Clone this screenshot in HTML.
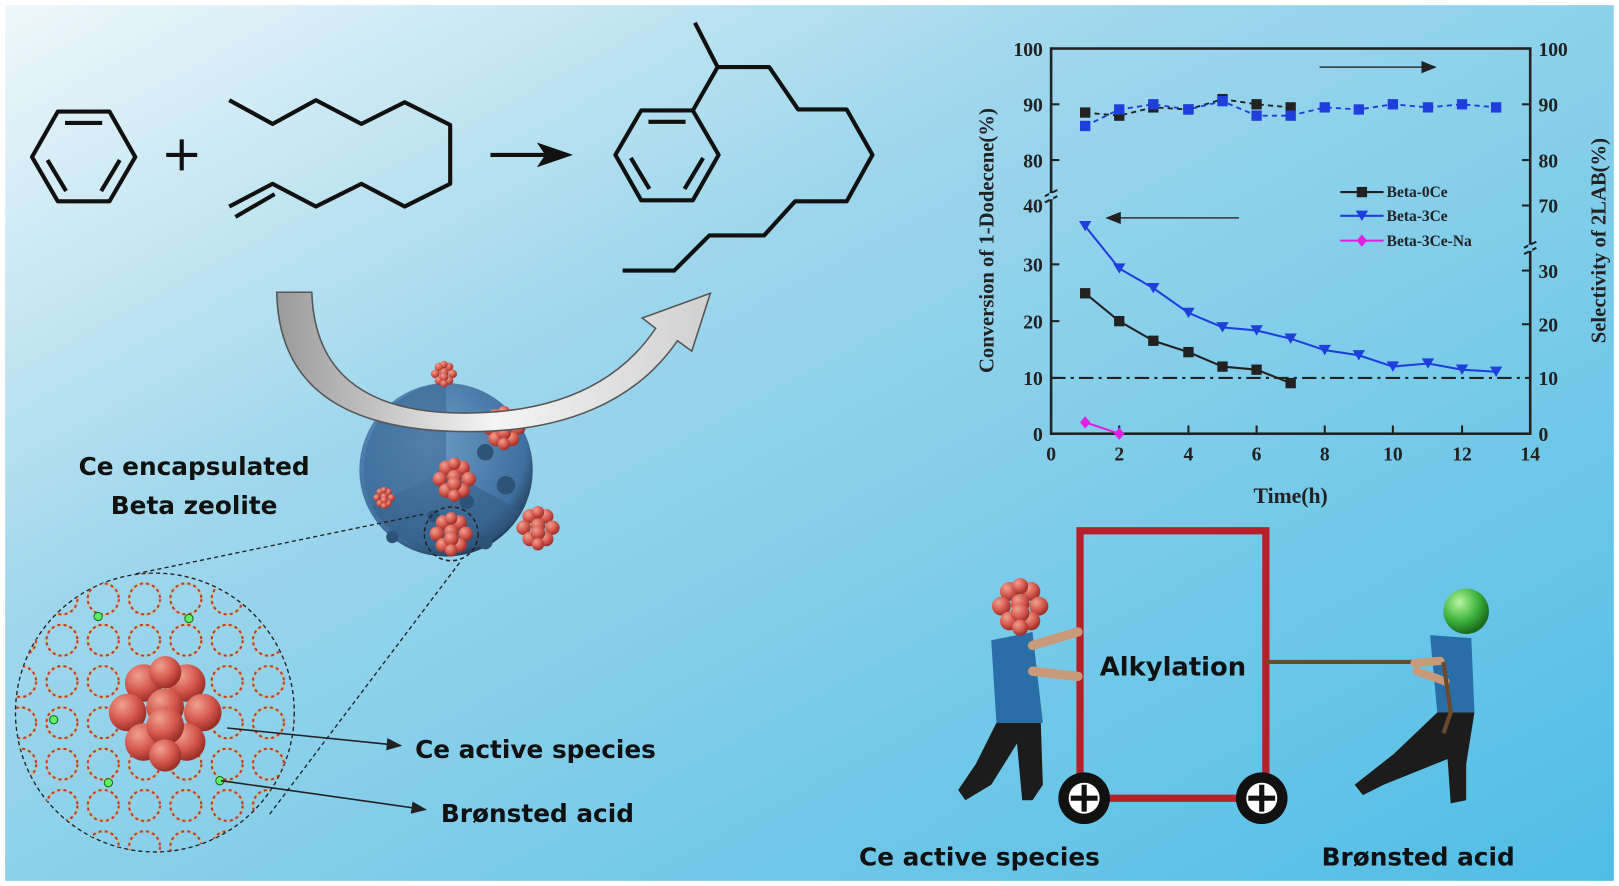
<!DOCTYPE html>
<html><head><meta charset="utf-8"><style>
html,body{margin:0;padding:0;background:#fff}
svg{display:block}
.t{font-family:"Liberation Serif",serif;font-weight:bold;font-size:19px;fill:#222}
.s{font-family:"DejaVu Sans","Liberation Sans",sans-serif;font-weight:bold;fill:#111}
</style></head><body>
<svg width="1619" height="886" viewBox="0 0 1568 858" preserveAspectRatio="none" xmlns="http://www.w3.org/2000/svg">
<defs>
<linearGradient id="bg" x1="0" y1="0" x2="1" y2="1">
<stop offset="0" stop-color="#eef7fa"/><stop offset="0.35" stop-color="#9fd7ec"/><stop offset="1" stop-color="#4fbde6"/>
</linearGradient>
<radialGradient id="sph" cx="0.4" cy="0.35" r="0.7"><stop offset="0" stop-color="#6e9dc8"/><stop offset="0.8" stop-color="#3f6f9e"/><stop offset="1" stop-color="#1e3650"/></radialGradient>
<radialGradient id="ball" cx="0.35" cy="0.3" r="0.7"><stop offset="0" stop-color="#f0a090"/><stop offset="0.6" stop-color="#d4574c"/><stop offset="1" stop-color="#9c3028"/></radialGradient>
<radialGradient id="gball" cx="0.35" cy="0.3" r="0.7"><stop offset="0" stop-color="#b8f5a0"/><stop offset="0.6" stop-color="#3cb33c"/><stop offset="1" stop-color="#1c6a1c"/></radialGradient>
<linearGradient id="arr" x1="0" y1="0" x2="1" y2="0"><stop offset="0" stop-color="#9a9a9a"/><stop offset="0.5" stop-color="#f4f4f4"/><stop offset="1" stop-color="#d0d0d0"/></linearGradient>
<marker id="ah" markerWidth="10" markerHeight="8" refX="9" refY="4" orient="auto"><path d="M0,0 L10,4 L0,8z" fill="#222"/></marker>
<pattern id="lat" width="40" height="40" patternUnits="userSpaceOnUse"><circle cx="20" cy="20" r="15" fill="none" stroke="#c8302a" stroke-width="2" stroke-dasharray="3 3"/><circle cx="20" cy="20" r="15" fill="none" stroke="#e6c040" stroke-width="1.5" stroke-dasharray="2 4" stroke-dashoffset="3"/></pattern>
<clipPath id="cc"><circle cx="150" cy="690" r="135"/></clipPath>
<g id="cl">
<circle cx="-8" cy="-11" r="7" fill="url(#ball)"/><circle cx="8" cy="-11" r="7" fill="url(#ball)"/>
<circle cx="-14" cy="0" r="7" fill="url(#ball)"/><circle cx="14" cy="0" r="7" fill="url(#ball)"/>
<circle cx="0" cy="-2" r="7" fill="url(#ball)"/>
<circle cx="-8" cy="11" r="7" fill="url(#ball)"/><circle cx="8" cy="11" r="7" fill="url(#ball)"/>
<circle cx="0" cy="5" r="7" fill="url(#ball)"/><circle cx="0" cy="-15" r="6" fill="url(#ball)"/><circle cx="0" cy="16" r="6" fill="url(#ball)"/>
</g>
</defs>
<rect width="1568" height="858" fill="#fff"/>
<rect x="5" y="5" width="1558" height="848" fill="url(#bg)"/>

<!-- reactants -->
<g fill="none" stroke="#111" stroke-width="4" stroke-linejoin="round">
<polygon points="31,152 56,108 106,108 131,152 106,195 56,195"/>
<line x1="63" y1="119" x2="99" y2="119"/><line x1="46" y1="155" x2="64" y2="185"/><line x1="116" y1="155" x2="98" y2="185"/>
<polyline points="222,97 264,120 306,97 350,120 392,99 436,121 436,178 392,200 350,178 306,200 264,178 222,200"/>
<line x1="228" y1="210" x2="266" y2="188"/>
<line x1="176" y1="135" x2="176" y2="165"/><line x1="161" y1="150" x2="191" y2="150"/>
<line x1="475" y1="150" x2="530" y2="150"/>
<polygon points="596,150 621,107 671,107 696,150 671,194 621,194"/>
<line x1="628" y1="118" x2="664" y2="118"/><line x1="611" y1="153" x2="629" y2="183"/><line x1="681" y1="153" x2="663" y2="183"/>
<polyline points="671,107 695,65 673,22"/>
<polyline points="695,65 745,65 773,106 820,106 845,150 820,195 770,195 740,228 687,228 653,262 603,262"/>
</g>
<polygon points="555,150 520,138 528,150 520,162" fill="#111"/>

<!-- sphere -->
<circle cx="432" cy="455" r="84" fill="url(#sph)"/>
<path d="M432,371 L432,455 L360,490 A84,84 0 0,1 432,371z" fill="#3c6b98" opacity="0.6"/>
<path d="M432,455 L505,495 A84,84 0 0,1 360,490z" fill="#2f5a82" opacity="0.5"/>
<g fill="#2d5478"><circle cx="470" cy="438" r="8"/><circle cx="490" cy="470" r="9"/><circle cx="420" cy="500" r="6"/><circle cx="452" cy="486" r="7"/><circle cx="470" cy="525" r="7"/><circle cx="380" cy="520" r="6"/></g>
<use href="#cl" transform="translate(430,362) scale(0.6)"/>
<use href="#cl" transform="translate(488,414)"/>
<use href="#cl" transform="translate(440,464)"/>
<use href="#cl" transform="translate(521,511)"/>
<use href="#cl" transform="translate(437,517)"/>
<use href="#cl" transform="translate(372,482) scale(0.5)"/>
<circle cx="437" cy="517" r="26" fill="none" stroke="#222" stroke-width="1.5" stroke-dasharray="4 3"/>

<!-- curved arrow (in front of sphere) -->
<path d="M268,283 L302,283 C305,380 380,400 450,400 C540,400 600,370 635,318 L622,308 L688,284 L670,340 L656,330 C615,390 545,418 455,418 C340,418 270,380 268,283z" fill="url(#arr)" stroke="#555" stroke-width="1.5"/>

<g stroke="#222" stroke-width="1.3" stroke-dasharray="4 3" fill="none">
<line x1="410" y1="498" x2="130" y2="556"/><line x1="445" y1="545" x2="260" y2="790"/>
<circle cx="150" cy="690" r="135"/>
</g>
<g clip-path="url(#cc)"><rect x="10" y="550" width="290" height="290" fill="url(#lat)"/></g>
<use href="#cl" transform="translate(160,690) scale(2.6)"/>
<g fill="#5ef05e" stroke="#1a6a1a" stroke-width="1"><circle cx="95" cy="597" r="4"/><circle cx="183" cy="599" r="4"/><circle cx="52" cy="697" r="4"/><circle cx="105" cy="758" r="4"/><circle cx="213" cy="756" r="4"/></g>
<g stroke="#222" stroke-width="1.5" marker-end="url(#ah)"><line x1="220" y1="705" x2="388" y2="722"/><line x1="214" y1="756" x2="412" y2="784"/></g>
<text class="s" x="188" y="460" font-size="24" text-anchor="middle">Ce encapsulated</text>
<text class="s" x="188" y="498" font-size="24" text-anchor="middle">Beta zeolite</text>
<text class="s" x="402" y="734" font-size="24">Ce active species</text>
<text class="s" x="427" y="796" font-size="24">Brønsted acid</text>

<!-- chart -->
<g stroke="#222" stroke-width="2.5" fill="none">
<rect x="1018" y="47" width="464" height="373"/>
</g>
<g stroke="#222" stroke-width="2">
<line x1="1018" y1="101" x2="1026" y2="101"/><line x1="1018" y1="155" x2="1026" y2="155"/><line x1="1018" y1="256" x2="1026" y2="256"/><line x1="1018" y1="311" x2="1026" y2="311"/><line x1="1018" y1="366" x2="1026" y2="366"/>
<line x1="1482" y1="101" x2="1474" y2="101"/><line x1="1482" y1="155" x2="1474" y2="155"/><line x1="1482" y1="199" x2="1474" y2="199"/><line x1="1482" y1="262" x2="1474" y2="262"/><line x1="1482" y1="314" x2="1474" y2="314"/>
<line x1="1084" y1="420" x2="1084" y2="412"/><line x1="1151" y1="420" x2="1151" y2="412"/><line x1="1217" y1="420" x2="1217" y2="412"/><line x1="1283" y1="420" x2="1283" y2="412"/><line x1="1349" y1="420" x2="1349" y2="412"/><line x1="1416" y1="420" x2="1416" y2="412"/>
<line x1="1012" y1="190" x2="1024" y2="184"/><line x1="1012" y1="196" x2="1024" y2="190"/>
<line x1="1476" y1="240" x2="1488" y2="234"/><line x1="1476" y1="246" x2="1488" y2="240"/>
</g>
<rect x="1016" y="187" width="4" height="6" fill="#8ccfe8"/><rect x="1480" y="237" width="4" height="6" fill="#6fc6e8"/>
<g class="t" text-anchor="end">
<text x="1010" y="54">100</text><text x="1010" y="108">90</text><text x="1010" y="162">80</text><text x="1010" y="206">40</text><text x="1010" y="263">30</text><text x="1010" y="318">20</text><text x="1010" y="373">10</text><text x="1010" y="427">0</text>
</g>
<g class="t">
<text x="1490" y="54">100</text><text x="1490" y="108">90</text><text x="1490" y="162">80</text><text x="1490" y="206">70</text><text x="1490" y="269">30</text><text x="1490" y="321">20</text><text x="1490" y="373">10</text><text x="1490" y="427">0</text>
</g>
<g class="t" text-anchor="middle">
<text x="1018" y="446">0</text><text x="1084" y="446">2</text><text x="1151" y="446">4</text><text x="1217" y="446">6</text><text x="1283" y="446">8</text><text x="1349" y="446">10</text><text x="1416" y="446">12</text><text x="1482" y="446">14</text>
<text x="1250" y="487" font-size="21">Time(h)</text>
<text transform="translate(962,233) rotate(-90)" font-size="20">Conversion of 1-Dodecene(%)</text>
<text transform="translate(1555,233) rotate(-90)" font-size="20">Selectivity of 2LAB(%)</text>
</g>
<line x1="1018" y1="366" x2="1482" y2="366" stroke="#222" stroke-width="2" stroke-dasharray="14 5 3 5"/>
<line x1="1278" y1="65" x2="1390" y2="65" stroke="#333" stroke-width="1.5" marker-end="url(#ah)"/>
<line x1="1200" y1="211" x2="1072" y2="211" stroke="#333" stroke-width="1.5" marker-end="url(#ah)"/>
<polyline points="1051,109 1084,112 1117,104 1151,106 1184,96 1217,101 1250,104" fill="none" stroke="#222" stroke-width="1.8" stroke-dasharray="5 4"/>
<polyline points="1051,122 1084,106 1117,101 1151,106 1184,98 1217,112 1250,112 1283,104 1316,106 1349,101 1383,104 1416,101 1449,104" fill="none" stroke="#1f3fdc" stroke-width="1.8" stroke-dasharray="5 4"/>
<g fill="#222"><rect x="1046" y="104" width="10" height="10"/><rect x="1079" y="107" width="10" height="10"/><rect x="1112" y="99" width="10" height="10"/><rect x="1146" y="101" width="10" height="10"/><rect x="1179" y="91" width="10" height="10"/><rect x="1212" y="96" width="10" height="10"/><rect x="1245" y="99" width="10" height="10"/></g>
<g fill="#1f3fdc"><rect x="1046" y="117" width="10" height="10"/><rect x="1079" y="101" width="10" height="10"/><rect x="1112" y="96" width="10" height="10"/><rect x="1146" y="101" width="10" height="10"/><rect x="1179" y="93" width="10" height="10"/><rect x="1212" y="107" width="10" height="10"/><rect x="1245" y="107" width="10" height="10"/><rect x="1278" y="99" width="10" height="10"/><rect x="1311" y="101" width="10" height="10"/><rect x="1344" y="96" width="10" height="10"/><rect x="1378" y="99" width="10" height="10"/><rect x="1411" y="96" width="10" height="10"/><rect x="1444" y="99" width="10" height="10"/></g>
<polyline points="1051,284 1084,311 1117,330 1151,341 1184,355 1217,358 1250,371" fill="none" stroke="#222" stroke-width="2"/>
<g fill="#222"><rect x="1046" y="279" width="10" height="10"/><rect x="1079" y="306" width="10" height="10"/><rect x="1112" y="325" width="10" height="10"/><rect x="1146" y="336" width="10" height="10"/><rect x="1179" y="350" width="10" height="10"/><rect x="1212" y="353" width="10" height="10"/><rect x="1245" y="366" width="10" height="10"/></g>
<polyline points="1051,219 1084,260 1117,279 1151,303 1184,317 1217,320 1250,328 1283,339 1316,344 1349,355 1383,352 1416,358 1449,360" fill="none" stroke="#1f3fdc" stroke-width="2"/>
<g fill="#1f3fdc">
<path d="M1045,214h12l-6,10z"/><path d="M1078,255h12l-6,10z"/><path d="M1111,274h12l-6,10z"/><path d="M1145,298h12l-6,10z"/><path d="M1178,312h12l-6,10z"/><path d="M1211,315h12l-6,10z"/><path d="M1244,323h12l-6,10z"/><path d="M1277,334h12l-6,10z"/><path d="M1310,339h12l-6,10z"/><path d="M1343,350h12l-6,10z"/><path d="M1377,347h12l-6,10z"/><path d="M1410,353h12l-6,10z"/><path d="M1443,355h12l-6,10z"/>
</g>
<polyline points="1051,409 1084,420" fill="none" stroke="#e020e0" stroke-width="2"/>
<path d="M1051,403l5,6l-5,6l-5,-6z" fill="#e020e0"/><path d="M1084,414l5,6l-5,6l-5,-6z" fill="#e020e0"/>
<line x1="1298" y1="186" x2="1340" y2="186" stroke="#222" stroke-width="2"/><rect x="1314" y="181" width="10" height="10" fill="#222"/>
<line x1="1298" y1="209" x2="1340" y2="209" stroke="#1f3fdc" stroke-width="2"/><path d="M1313,204h12l-6,10z" fill="#1f3fdc"/>
<line x1="1298" y1="233" x2="1340" y2="233" stroke="#e020e0" stroke-width="2"/><path d="M1319,227l5,6l-5,6l-5,-6z" fill="#e020e0"/>
<g class="t"><text x="1343" y="191" style="font-size:15px">Beta-0Ce</text><text x="1343" y="214" style="font-size:15px">Beta-3Ce</text><text x="1343" y="238" style="font-size:15px">Beta-3Ce-Na</text></g>

<!-- tug scene -->
<rect x="1046" y="514" width="180" height="259" fill="none" stroke="#b5202a" stroke-width="7"/>
<text class="s" x="1136" y="654" font-size="25" text-anchor="middle">Alkylation</text>
<g><circle cx="1050" cy="773" r="25" fill="#111"/><circle cx="1050" cy="773" r="15" fill="#fff"/><path d="M1050,760v26M1037,773h26" stroke="#111" stroke-width="5"/>
<circle cx="1222" cy="773" r="25" fill="#111"/><circle cx="1222" cy="773" r="15" fill="#fff"/><path d="M1222,760v26M1209,773h26" stroke="#111" stroke-width="5"/></g>
<path d="M960,620 L1000,612 L1010,700 L965,700z" fill="#2a6ea8"/>
<path d="M1000,625 L1044,612 M1000,650 L1044,655" stroke="#c99a7a" stroke-width="9" stroke-linecap="round"/>
<path d="M965,700 L1008,700 L1010,760 L1000,775 L990,775 L985,720 L960,760 L935,775 L928,765 L945,740z" fill="#1c1c1c"/>
<use href="#cl" transform="translate(988,587) scale(1.3)"/>
<line x1="1226" y1="641" x2="1398" y2="641" stroke="#6a4a2a" stroke-width="4"/>
<path d="M1385,615 L1425,618 L1428,690 L1392,690z" fill="#2a6ea8"/>
<path d="M1395,640 L1370,642 M1400,660 L1372,650" stroke="#c99a7a" stroke-width="8" stroke-linecap="round"/>
<path d="M1392,690 L1428,690 L1420,740 L1420,775 L1405,778 L1402,735 L1340,760 L1320,770 L1312,760 L1350,730z" fill="#1c1c1c"/>
<path d="M1398,641 L1405,690 L1398,710" stroke="#6a4a2a" stroke-width="4" fill="none"/>
<circle cx="1420" cy="592" r="22" fill="url(#gball)"/>
<text class="s" x="832" y="838" font-size="24">Ce active species</text>
<text class="s" x="1280" y="838" font-size="24">Brønsted acid</text>
</svg>
</body></html>
